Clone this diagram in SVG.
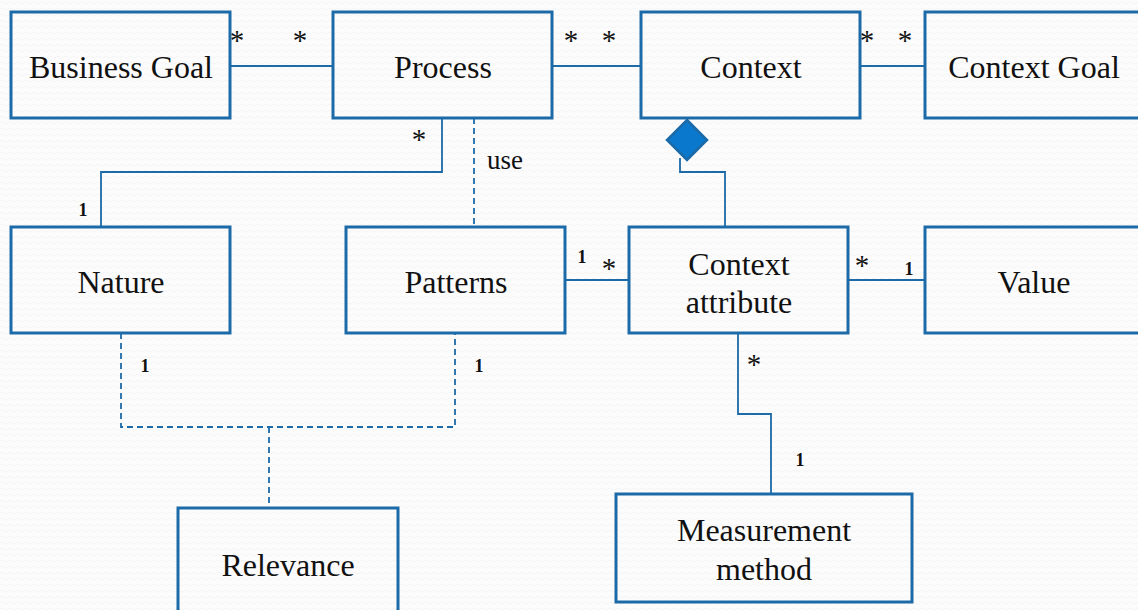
<svg xmlns="http://www.w3.org/2000/svg" width="1138" height="610" viewBox="0 0 1138 610">
<defs>
<pattern id="bg" width="8" height="6" patternUnits="userSpaceOnUse">
<rect width="8" height="6" fill="#fcfcfc"/>
<path d="M0 3 Q2 1 4 3 T8 3" fill="none" stroke="#efefef" stroke-width="0.7"/>
</pattern>
<style>
.box{fill:none;stroke:#1c6aa8;stroke-width:3}
.lbl{font-family:"Liberation Serif","DejaVu Serif",serif;font-size:32px;fill:#111;text-anchor:middle}
.ln{fill:none;stroke:#1c6aa8;stroke-width:1.8}
.dash{fill:none;stroke:#1c6aa8;stroke-width:1.8;stroke-dasharray:6 4}
.star{font-family:"Liberation Serif","DejaVu Serif",serif;font-size:29px;fill:#111;text-anchor:middle}
.one{font-family:"Liberation Serif","DejaVu Serif",serif;font-size:18px;font-weight:bold;fill:#111;text-anchor:middle}
.use{font-family:"Liberation Serif","DejaVu Serif",serif;font-size:27px;fill:#111}
</style>
</defs>
<rect width="1138" height="610" fill="url(#bg)"/>
<g id="connectors">
<line class="ln" x1="230" y1="66" x2="333" y2="66"/>
<line class="ln" x1="552" y1="66" x2="641" y2="66"/>
<line class="ln" x1="860" y1="66" x2="925" y2="66"/>
<polyline class="ln" points="442,118 442,172 101,172 101,227"/>
<line class="dash" x1="474" y1="118" x2="474" y2="227"/>
<polyline class="ln" points="680,158 680,172 725,172 725,227"/>
<polygon points="687,120 707,140 687,160 667,140" fill="#0a78cc" stroke="#1c6aa8" stroke-width="2.5"/>
<line class="ln" x1="565" y1="280" x2="629" y2="280"/>
<line class="ln" x1="848" y1="280" x2="925" y2="280"/>
<polyline class="ln" points="738,333 738,414 771,414 771,494"/>
<polyline class="dash" points="121,333 121,427 455,427 455,333"/>
<line class="dash" x1="269" y1="427" x2="269" y2="508"/>
<text class="star" x="237" y="50">*</text>
<text class="star" x="300" y="50">*</text>
<text class="star" x="571" y="50">*</text>
<text class="star" x="609" y="50">*</text>
<text class="star" x="867" y="50">*</text>
<text class="star" x="905" y="50">*</text>
<text class="star" x="419" y="149">*</text>
<text class="one" x="83" y="216">1</text>
<text class="use" x="487" y="169">use</text>
<text class="one" x="582" y="263">1</text>
<text class="star" x="609" y="278">*</text>
<text class="star" x="862" y="275">*</text>
<text class="one" x="909" y="275">1</text>
<text class="star" x="754" y="374">*</text>
<text class="one" x="800" y="466">1</text>
<text class="one" x="145" y="372">1</text>
<text class="one" x="479" y="372">1</text>
</g>
<g id="business-goal"><rect class="box" x="11" y="12" width="219" height="106"/><text class="lbl" x="121" y="78">Business Goal</text></g>
<g id="process"><rect class="box" x="333" y="12" width="219" height="106"/><text class="lbl" x="443" y="78">Process</text></g>
<g id="context"><rect class="box" x="641" y="12" width="219" height="106"/><text class="lbl" x="751" y="78">Context</text></g>
<g id="context-goal"><rect class="box" x="925" y="12" width="219" height="106"/><text class="lbl" x="1034" y="78">Context Goal</text></g>
<g id="nature"><rect class="box" x="11" y="227" width="219" height="106"/><text class="lbl" x="121" y="293">Nature</text></g>
<g id="patterns"><rect class="box" x="346" y="227" width="219" height="106"/><text class="lbl" x="456" y="293">Patterns</text></g>
<g id="context-attribute"><rect class="box" x="629" y="227" width="219" height="106"/><text class="lbl" x="739" y="275">Context</text><text class="lbl" x="739" y="313">attribute</text></g>
<g id="value"><rect class="box" x="925" y="227" width="219" height="106"/><text class="lbl" x="1034" y="293">Value</text></g>
<g id="measurement-method"><rect class="box" x="616" y="494" width="296" height="108"/><text class="lbl" x="764" y="541">Measurement</text><text class="lbl" x="764" y="580">method</text></g>
<g id="relevance"><rect class="box" x="178" y="508" width="220" height="110"/><text class="lbl" x="288" y="576">Relevance</text></g>
</svg>
